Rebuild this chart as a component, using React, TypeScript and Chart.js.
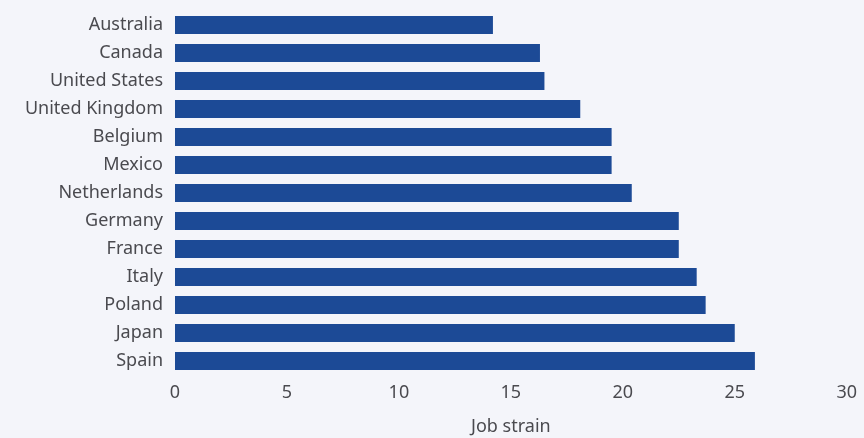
import React, { useEffect, useRef } from "react";
import { Chart, registerables } from "chart.js";

Chart.register(...registerables);

const countries = [
  "Australia",
  "Canada",
  "United States",
  "United Kingdom",
  "Belgium",
  "Mexico",
  "Netherlands",
  "Germany",
  "France",
  "Italy",
  "Poland",
  "Japan",
  "Spain",
];
const jobStrain = [14.2, 16.3, 16.5, 18.1, 19.5, 19.5, 20.4, 22.5, 22.5, 23.3, 23.7, 25.0, 25.9];
const xTicks = [0, 5, 10, 15, 20, 25, 30];
const xTitle = "Job strain";

const FONT = "'Noto Sans', 'Open Sans', sans-serif";
const TEXT = "#4a4a4f";
const BAR = "#1c4a96";
const BG = "#f4f5fa";

export default function App() {
  const ref = useRef<HTMLCanvasElement | null>(null);
  useEffect(() => {
    if (!ref.current) return;
    const chart = new Chart(ref.current, {
      type: "bar",
      data: {
        labels: countries,
        datasets: [
          {
            label: xTitle,
            data: jobStrain,
            backgroundColor: BAR,
            borderWidth: 0,
            barPercentage: 0.64,
            categoryPercentage: 1,
          },
        ],
      },
      options: {
        indexAxis: "y",
        animation: false,
        responsive: false,
        maintainAspectRatio: false,
        layout: { padding: { top: 0, right: 15, left: 0, bottom: 0 } },
        plugins: { legend: { display: false }, tooltip: { enabled: false } },
        scales: {
          x: {
            min: 0,
            max: 30,
            afterBuildTicks: (s: any) => {
              s.ticks = xTicks.map((v) => ({ value: v }));
            },
            grid: { display: false, drawTicks: false },
            border: { display: false },
            ticks: {
              color: TEXT,
              font: { family: FONT, size: 18 },
              padding: 7,
              maxRotation: 0,
            },
            title: {
              display: true,
              text: xTitle,
              color: TEXT,
              font: { family: FONT, size: 18 },
              padding: { top: 12, bottom: 0 },
            },
            afterFit: (s: any) => {
              s.height = 63;
            },
          },
          y: {
            grid: { display: false, drawTicks: false },
            border: { display: false },
            ticks: {
              color: TEXT,
              font: { family: FONT, size: 18 },
              padding: 12,
              autoSkip: false,
            },
            afterFit: (s: any) => {
              s.width = 175;
              s.paddingTop = 11;
              s.paddingBottom = 0;
            },
          },
        },
      },
    });
    return () => chart.destroy();
  }, []);
  return (
    <div style={{ position: "fixed", left: 0, top: 0, width: 864, height: 438, background: BG }}>
      <canvas ref={ref} width={864} height={438} style={{ display: "block" }} />
    </div>
  );
}
